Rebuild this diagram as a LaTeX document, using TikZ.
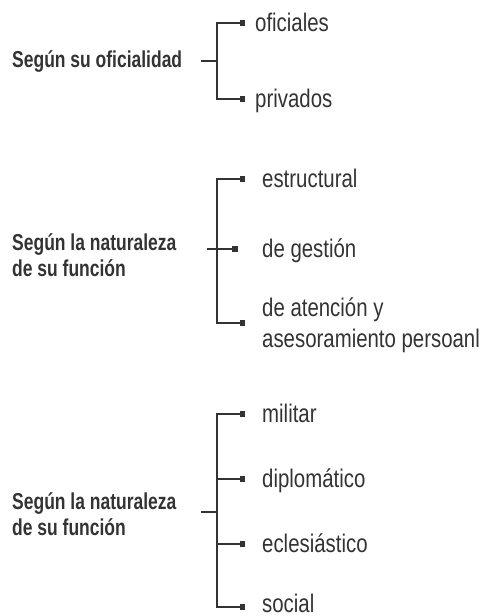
\documentclass[tikz,border=0pt]{standalone}
\usepackage{fontspec}
\setmainfont{Liberation Sans}[FakeStretch=0.8]
\newfontfamily\headfont{Liberation Sans}[FakeStretch=0.76]
\definecolor{ink}{HTML}{333333}
\tikzset{
  head/.style={anchor=west, align=left, inner sep=0pt, text=ink,
    font=\headfont\bfseries\fontsize{23}{26}\selectfont},
  item/.style={anchor=base west, align=left, inner sep=0pt, text=ink,
    font=\fontsize{25.5}{31}\selectfont},
  tipbox/.style={fill=ink, minimum size=5.5pt, inner sep=0pt},
  brace/.style={draw=ink, line width=1.3pt}
}

\begin{document}
\begin{tikzpicture}[x=1pt,y=-1pt]
  \useasboundingbox (0,0) rectangle (485,616);

  % Segun su oficialidad
  \node[head] (h1) at (12,62) {Según su oficialidad};
  \coordinate (t1) at (201,61);
  \coordinate (j1) at (217,61);
  \node[tipbox] (s11) at (242.5,23) {};
  \node[tipbox] (s12) at (242.5,99) {};
  \node[item] (i11) at (255,31) {oficiales};
  \node[item] (i12) at (255,107) {privados};
  \draw[brace] (t1) -- (j1);
  \draw[brace] (s11.center) -| (j1) |- (s12.center);

  % Segun la naturaleza (1)
  \node[head] (h2) at (12,255) {Según la naturaleza\\de su función};
  \coordinate (t2) at (207,249);
  \node[tipbox] (s21) at (242.5,179) {};
  \node[tipbox] (s22) at (235,249) {};
  \node[tipbox] (s23) at (242.5,323) {};
  \node[item] (i21) at (262,187) {estructural};
  \node[item] (i22) at (262,257) {de gestión};
  \node[item, anchor=west] (i23) at (262,325) {de atención y\\asesoramiento persoanl};
  \draw[brace] (t2) -- (s22.center);
  \draw[brace] (s21.center) -| (217,249) |- (s23.center);

  % Segun la naturaleza (2)
  \node[head] (h3) at (12,514) {Según la naturaleza\\de su función};
  \coordinate (t3) at (201,512);
  \coordinate (j3) at (217,512);
  \node[tipbox] (s31) at (242.5,414) {};
  \node[tipbox] (s32) at (242.5,479) {};
  \node[tipbox] (s33) at (242.5,544) {};
  \node[tipbox] (s34) at (242.5,607) {};
  \node[item] (i31) at (262,422) {militar};
  \node[item] (i32) at (262,487) {diplomático};
  \node[item] (i33) at (262,552) {eclesiástico};
  \node[item] (i34) at (262,612) {social};
  \draw[brace] (t3) -- (j3);
  \draw[brace] (s31.center) -| (j3) |- (s34.center);
  \draw[brace] (j3 |- s32) -- (s32.center);
  \draw[brace] (j3 |- s33) -- (s33.center);
\end{tikzpicture}
\end{document}
